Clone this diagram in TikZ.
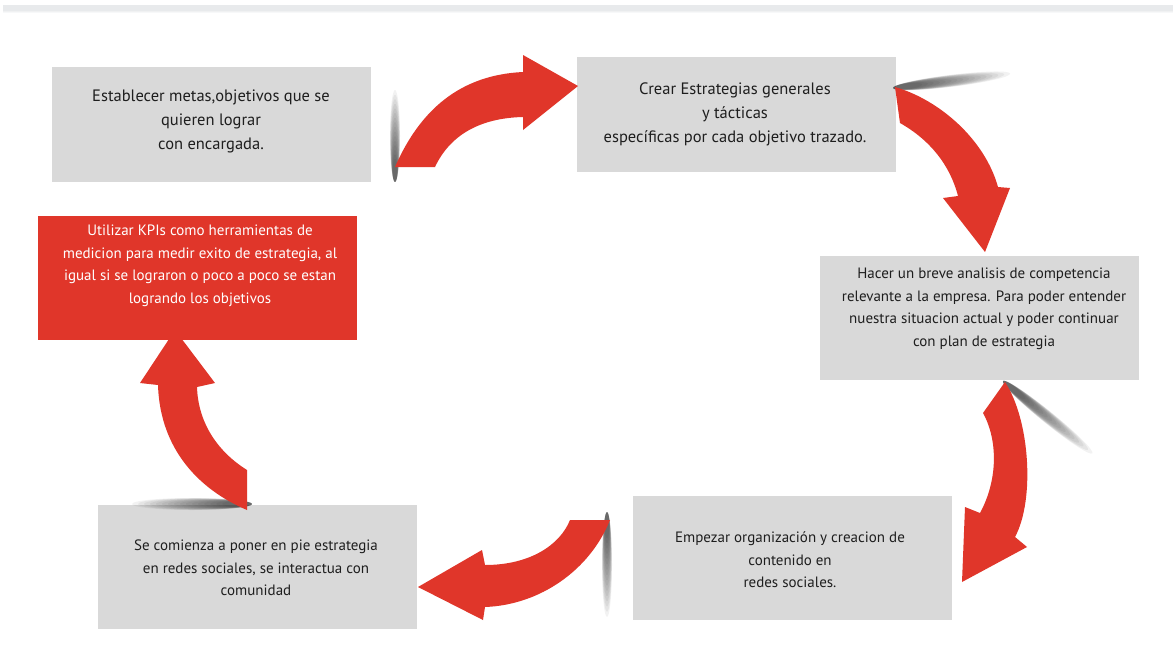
\documentclass[tikz,border=0pt]{standalone}
\usepackage{fontspec}
\setmainfont{PT Sans}
\definecolor{boxgray}{RGB}{217,217,217}
\definecolor{arrowred}{RGB}{224,54,42}
\definecolor{txtgray}{RGB}{30,30,30}
\definecolor{topline}{RGB}{232,234,236}
\newcommand\softshadow[5]{% start x, start y, angle, length, half width
  \begin{scope}[shift={(#1,#2)}, rotate=#3]
    \foreach \s in {1,0.95,0.9,0.85,0.8,0.75,0.7,0.65,0.6,0.55,0.5,0.45,0.4,0.35,0.3,0.25} {
      \fill[black, opacity=0.05] (\s*#4/2, 0) ellipse [x radius={\s*#4/2*1pt}, y radius={(0.3+0.7*\s)*#5*1pt}];
    }
  \end{scope}}
\begin{document}
\begin{tikzpicture}[x=1pt,y=-1pt,
  box/.style={fill=boxgray, draw=none, inner sep=0pt, anchor=north west, minimum width=319pt, minimum height=118pt},
  redbox/.style={box, fill=arrowred},
  txt/.style={align=center, inner sep=0pt, text=txtgray, font=\fontsize{15}{22.5}\selectfont},
  bigtxt/.style={txt, font=\fontsize{16.5}{24}\selectfont},
  wtxt/.style={txt, text=white},
  bigarrow/.style={fill=arrowred, draw=none}]
\useasboundingbox (0,0) rectangle (1173,672);
\fill[white] (0,0) rectangle (1173,672);
% top rule
\fill[topline] (3,5) rectangle (1173,10);
\shade[top color=topline, bottom color=white] (3,10) rectangle (1173,13);

% boxes
\node[box, minimum height=115pt] (b1) at (52,67) {};
\node[box, minimum height=115pt] (b2) at (577,57) {};
\node[box, minimum height=124pt] (b3) at (820,256) {};
\node[box, minimum height=124pt] (b4) at (633,496) {};
\node[box, minimum height=124pt] (b5) at (98,505) {};
\node[redbox, minimum height=124pt] (b6) at (38,216) {};

% soft shadows
\softshadow{395}{182}{90}{92}{5}
\softshadow{893}{88}{7}{118}{6}
\softshadow{1003}{381}{-39}{115}{6}
\softshadow{607}{512}{-90}{105}{5}
\softshadow{252}{504}{180}{120}{6}

% arrows
\fill[bigarrow] (395,167) .. controls (420,110) and (460,75) .. (523,72)
  -- (523,55) -- (578,86) -- (523,130) -- (523,117)
  .. controls (480,118) and (450,135) .. (435,167) -- cycle;
\fill[bigarrow] (895,87) .. controls (940,100) and (985,140) .. (998,187)
  -- (1010,188) -- (985,252) -- (943,198) -- (958,196)
  .. controls (950,165) and (930,140) .. (900,123) -- cycle;
\fill[bigarrow] (1005,382) .. controls (1030,420) and (1035,500) .. (1015,537)
  -- (1027,547) -- (962,582) -- (965,507) -- (980,513)
  .. controls (998,480) and (998,440) .. (983,413) -- cycle;
\fill[bigarrow] (610,520) .. controls (590,570) and (540,605) .. (485,607)
  -- (483,620) -- (418,587) -- (482,550) -- (485,565)
  .. controls (530,565) and (560,545) .. (570,520) -- cycle;
\fill[bigarrow] (247,510) .. controls (200,490) and (160,450) .. (158,385)
  -- (140,383) -- (175,330) -- (215,383) -- (197,387)
  .. controls (198,420) and (215,450) .. (247,470) -- cycle;

% texts
\node[bigtxt] (t1) at (211,121) {Establecer metas,objetivos que se\\quieren lograr\\con encargada.};
\node[bigtxt] (t2) at (735,114) {Crear Estrategias generales\\y tácticas\\específicas por cada objetivo trazado.};
\node[txt] (t3) at (984,309) {Hacer un breve analisis de competencia\\relevante a la empresa. Para poder entender\\nuestra situacion actual y poder continuar\\con plan de estrategia};
\node[txt] (t4) at (790,560) {Empezar organización y creacion de\\contenido en\\redes sociales.};
\node[txt] (t5) at (256,568) {Se comienza a poner en pie estrategia\\en redes sociales, se interactua con\\comunidad};
\node[wtxt] (t6) at (200,266) {Utilizar KPIs como herramientas de\\medicion para medir exito de estrategia, al\\igual si se lograron o poco a poco se estan\\logrando los objetivos};
\end{tikzpicture}
\end{document}
